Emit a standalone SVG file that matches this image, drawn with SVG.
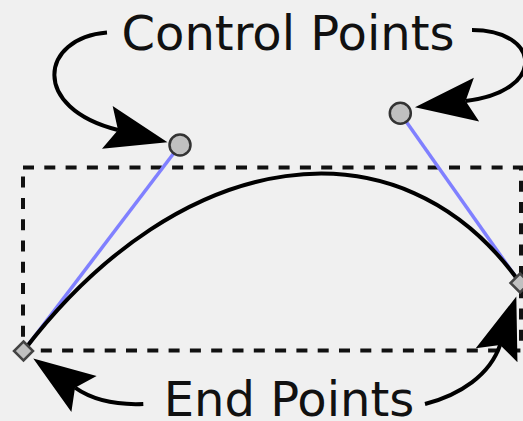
<svg xmlns="http://www.w3.org/2000/svg" width="523" height="421" viewBox="0 0 523 421">
  <defs>
    <style>
      .label { font-family: "DejaVu Sans", "Liberation Sans", sans-serif; font-size: 48px; fill: #111; text-anchor: middle; }
      .arrow { fill: none; stroke: #000; stroke-width: 4; marker-end: url(#ah); }
      .handle { stroke: #8080ff; stroke-width: 3.5; fill: none; }
      .cp { fill: #c0c0c0; stroke: #333; stroke-width: 2.5; }
      .ep { fill: #c0c0c0; stroke: #444; stroke-width: 2.5; }
      .bbox { fill: none; stroke: #111; stroke-width: 4; stroke-dasharray: 11 10.3; }
      .curve { fill: none; stroke: #000; stroke-width: 4; }
    </style>
    <marker id="ah" markerUnits="userSpaceOnUse" orient="auto" refX="0" refY="0" markerWidth="70" markerHeight="50" viewBox="-15 -25 70 50" overflow="visible">
      <path d="M51,0 L-11,-22 L0,0 L-11,22 Z" fill="#000"/>
    </marker>
  </defs>
  <rect width="523" height="421" fill="#f0f0f0"/>

  <g id="bounding-box">
    <rect class="bbox" x="23" y="167.5" width="498" height="183"/>
  </g>

  <g id="handles">
    <line class="handle" x1="23.5" y1="351" x2="180" y2="145"/>
    <line class="handle" x1="520" y1="283" x2="400.3" y2="113.3"/>
  </g>

  <g id="bezier-curve">
    <path class="curve" d="M23.5,351 C180,145 400.3,113.3 520,283"/>
  </g>

  <g id="control-point-1">
    <circle class="cp" cx="180" cy="145" r="10.5"/>
  </g>
  <g id="control-point-2">
    <circle class="cp" cx="400.3" cy="113.3" r="10.5"/>
  </g>
  <g id="end-point-1">
    <polygon class="ep" points="23.5,341.5 33,351 23.5,360.5 14,351"/>
  </g>
  <g id="end-point-2">
    <polygon class="ep" points="520,273.5 529.5,283 520,292.5 510.5,283"/>
  </g>

  <g id="label-control-points">
    <text class="label" x="288" y="50">Control Points</text>
  </g>
  <g id="label-end-points">
    <text class="label" x="289" y="415.5">End Points</text>
  </g>

  <g id="connectors">
    <path class="arrow" d="M107,32.5 C40,38 30,108 118,130"/>
    <path class="arrow" d="M472,30 C540,30 548,91 465.6,101"/>
    <path class="arrow" d="M143.3,404 C120,405 95.4,402 75,387.7"/>
    <path class="arrow" d="M425,404 C460,395 490,375 500.1,344.9"/>
  </g>
</svg>
